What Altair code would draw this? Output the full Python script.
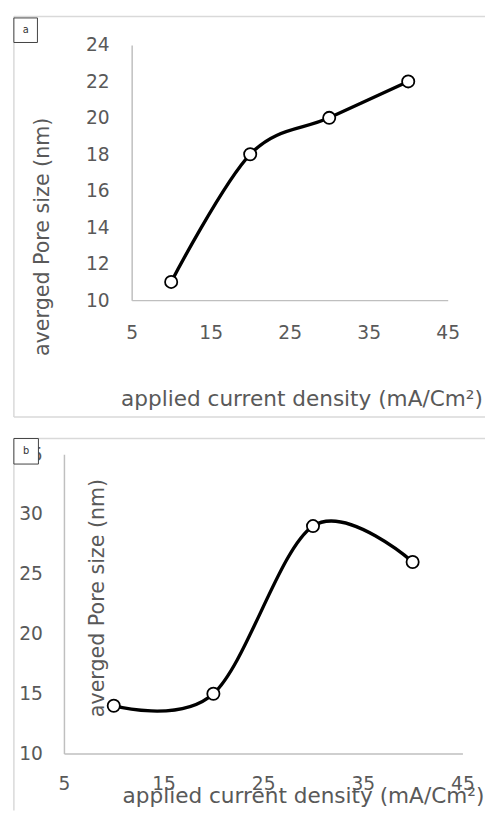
import altair as alt
import pandas as pd

# ---- data ----
density = [10, 20, 30, 40]
pore_a = [11, 18, 20, 22]
pore_b = [14, 15, 29, 26]
x_ticks = [5, 15, 25, 35, 45]
y_ticks_a = [10, 12, 14, 16, 18, 20, 22, 24]
y_ticks_b = [10, 15, 20, 25, 30, 35]
x_title = "applied current density (mA/Cm²)"
y_title = "averged Pore size (nm)"
panel_labels = ["a", "b"]

FONT = "DejaVu Sans"
TXT = "#595959"
AXIS_C = "#bfbfbf"
BORDER_C = "#d9d9d9"
LFS = 19
XTFS = 22
YTFS = 21


def panel(values, label, W, H, xr, yr, ydom, yticks, xlab_pad, ylab_pad,
          xt, yt, box, draw_bottom):
    df = pd.DataFrame({"x": density, "y": values})
    one = pd.DataFrame({"k": [0]})
    common = dict(domainColor=AXIS_C, domainWidth=1.5, ticks=False, tickSize=0,
                  grid=False, labelFont=FONT, labelFontSize=LFS, labelColor=TXT,
                  labelFlush=False, labelOverlap=False,
                  titleFont=FONT, titleColor=TXT,
                  titleFontWeight="normal", titleAlign="center",
                  titleBaseline="middle")
    x_enc = alt.X("x:Q",
                  scale=alt.Scale(domain=[5, 45], range=xr, nice=False, zero=False),
                  axis=alt.Axis(values=x_ticks, offset=-(H - yr[0]),
                                labelPadding=xlab_pad, labelBaseline="middle",
                                title=x_title, titleX=xt[0], titleY=xt[1],
                                titleFontSize=XTFS, **common))
    y_enc = alt.Y("y:Q",
                  scale=alt.Scale(domain=ydom, range=yr, nice=False, zero=False),
                  axis=alt.Axis(values=yticks, offset=-xr[0],
                                labelPadding=ylab_pad,
                                title=y_title, titleX=yt[0], titleY=yt[1],
                                titleAngle=270, titleFontSize=YTFS, **common))
    base = alt.Chart(df).encode(x=x_enc, y=y_enc)
    line = base.mark_line(interpolate="cardinal", color="black", strokeWidth=3.4)
    pts = base.mark_point(shape="circle", filled=True, fill="white", stroke="black",
                          strokeWidth=1.8, size=155, opacity=1)
    rule = alt.Chart(one).mark_rule(color=BORDER_C, strokeWidth=1.5)
    borders = [
        rule.encode(x=alt.value(0), y=alt.value(0), y2=alt.value(H)),
        rule.encode(x=alt.value(0), x2=alt.value(W), y=alt.value(0)),
    ]
    if draw_bottom:
        borders.append(rule.encode(x=alt.value(0), x2=alt.value(W), y=alt.value(H)))
    rect = alt.Chart(one).mark_rect(fill="white", stroke="#404040", strokeWidth=1).encode(
        x=alt.value(box[0]), x2=alt.value(box[2]), y=alt.value(box[1]), y2=alt.value(box[3]))
    txt = alt.Chart(one).mark_text(text=label, font=FONT, fontSize=10, color="#333333").encode(
        x=alt.value((box[0] + box[2]) / 2), y=alt.value((box[1] + box[3]) / 2))
    return alt.layer(*borders, line, pts, rect, txt).properties(width=W, height=H)


pa = panel(pore_a, panel_labels[0], 480, 408, [120, 442], [289, 29], [10, 24], y_ticks_a,
           33, 23, (293, 100), (-91, 224), (0, 1.5, 24, 26.5), True)
pb = panel(pore_b, panel_labels[1], 480, 379, [51, 457], [321, 16], [10, 35], y_ticks_b,
           31, 22, (294.5, 43), (34, 162), (0, 0, 25, 26), False)

chart = alt.vconcat(pa, pb, spacing=20).properties(
    padding={"left": 5, "top": 0, "right": 0, "bottom": 0}
).configure_view(strokeWidth=0)

chart.save("out.html", embed_options={"renderer": "svg", "actions": False})
